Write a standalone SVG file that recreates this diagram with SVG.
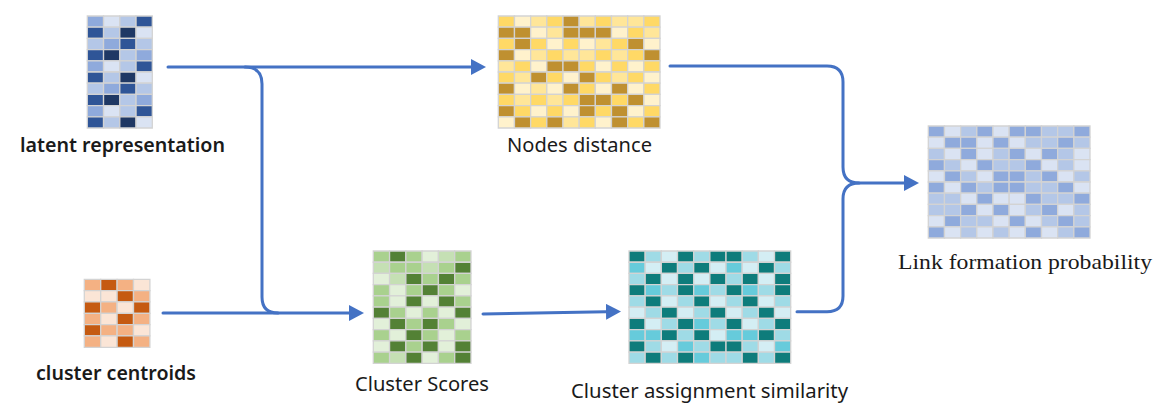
<svg xmlns="http://www.w3.org/2000/svg" width="1160" height="416" viewBox="0 0 1160 416">
<style>
rect{stroke:#d3d3d3;stroke-width:1.3;vector-effect:non-scaling-stroke}
.bVL{fill:#dae3f3}.bL{fill:#b4c7e7}.bM{fill:#8faadc}.bD{fill:#2f5597}.bX{fill:#1f3864}
.yVL{fill:#fff2cc}.yL{fill:#ffe699}.yM{fill:#ffd966}.yD{fill:#bf9030}
.oVL{fill:#fbe5d6}.oM{fill:#f4b183}.oD{fill:#c55a11}
.gVL{fill:#e2f0d9}.gL{fill:#c5e0b4}.gM{fill:#a9d18e}.gD{fill:#538135}
.tVL{fill:#d4eef4}.tL{fill:#9fdbe6}.tC{fill:#66cbdb}.tD{fill:#0e7c7b}
.conn{fill:none;stroke:#4472c4;stroke-width:3;stroke-linecap:round}
.sans{font-family:"Noto Sans","Open Sans",sans-serif;font-size:20px;fill:#1a1a1a}
.semi{font-weight:600}
.serif{font-family:"Liberation Serif","Times New Roman",serif;font-size:21px;fill:#1a1a1a}
</style>
<defs>
<marker id="ah" markerUnits="userSpaceOnUse" markerWidth="15" markerHeight="16" viewBox="0 0 15 16" refX="0" refY="8" orient="auto">
<path d="M0,0 L15,8 L0,16 Z" fill="#4472c4"/>
</marker>
</defs>
<rect x="0" y="0" width="1160" height="416" style="fill:#ffffff;stroke:none"/>

<g id="latent">
<g transform="translate(87.3,16) scale(16.25,11.2)">
<rect x="0" y="0" width="1" height="1" class="bM"/><rect x="1" y="0" width="1" height="1" class="bVL"/><rect x="2" y="0" width="1" height="1" class="bL"/><rect x="3" y="0" width="1" height="1" class="bD"/>
<rect x="0" y="1" width="1" height="1" class="bD"/><rect x="1" y="1" width="1" height="1" class="bL"/><rect x="2" y="1" width="1" height="1" class="bX"/><rect x="3" y="1" width="1" height="1" class="bVL"/>
<rect x="0" y="2" width="1" height="1" class="bL"/><rect x="1" y="2" width="1" height="1" class="bM"/><rect x="2" y="2" width="1" height="1" class="bD"/><rect x="3" y="2" width="1" height="1" class="bL"/>
<rect x="0" y="3" width="1" height="1" class="bD"/><rect x="1" y="3" width="1" height="1" class="bX"/><rect x="2" y="3" width="1" height="1" class="bL"/><rect x="3" y="3" width="1" height="1" class="bM"/>
<rect x="0" y="4" width="1" height="1" class="bM"/><rect x="1" y="4" width="1" height="1" class="bVL"/><rect x="2" y="4" width="1" height="1" class="bL"/><rect x="3" y="4" width="1" height="1" class="bD"/>
<rect x="0" y="5" width="1" height="1" class="bD"/><rect x="1" y="5" width="1" height="1" class="bL"/><rect x="2" y="5" width="1" height="1" class="bX"/><rect x="3" y="5" width="1" height="1" class="bVL"/>
<rect x="0" y="6" width="1" height="1" class="bL"/><rect x="1" y="6" width="1" height="1" class="bM"/><rect x="2" y="6" width="1" height="1" class="bD"/><rect x="3" y="6" width="1" height="1" class="bL"/>
<rect x="0" y="7" width="1" height="1" class="bD"/><rect x="1" y="7" width="1" height="1" class="bX"/><rect x="2" y="7" width="1" height="1" class="bL"/><rect x="3" y="7" width="1" height="1" class="bM"/>
<rect x="0" y="8" width="1" height="1" class="bM"/><rect x="1" y="8" width="1" height="1" class="bVL"/><rect x="2" y="8" width="1" height="1" class="bL"/><rect x="3" y="8" width="1" height="1" class="bD"/>
<rect x="0" y="9" width="1" height="1" class="bD"/><rect x="1" y="9" width="1" height="1" class="bL"/><rect x="2" y="9" width="1" height="1" class="bX"/><rect x="3" y="9" width="1" height="1" class="bVL"/>
</g>
<text x="20" y="152" class="sans semi" textLength="205" lengthAdjust="spacingAndGlyphs">latent representation</text>
</g>

<g id="nodes-distance">
<g transform="translate(498.3,16) scale(16.17,11.2)">
<rect x="0" y="0" width="1" height="1" class="yM"/><rect x="1" y="0" width="1" height="1" class="yVL"/><rect x="2" y="0" width="1" height="1" class="yL"/><rect x="3" y="0" width="1" height="1" class="yM"/><rect x="4" y="0" width="1" height="1" class="yD"/><rect x="5" y="0" width="1" height="1" class="yL"/><rect x="6" y="0" width="1" height="1" class="yM"/><rect x="7" y="0" width="1" height="1" class="yL"/><rect x="8" y="0" width="1" height="1" class="yL"/><rect x="9" y="0" width="1" height="1" class="yM"/>
<rect x="0" y="1" width="1" height="1" class="yD"/><rect x="1" y="1" width="1" height="1" class="yD"/><rect x="2" y="1" width="1" height="1" class="yVL"/><rect x="3" y="1" width="1" height="1" class="yL"/><rect x="4" y="1" width="1" height="1" class="yD"/><rect x="5" y="1" width="1" height="1" class="yD"/><rect x="6" y="1" width="1" height="1" class="yD"/><rect x="7" y="1" width="1" height="1" class="yVL"/><rect x="8" y="1" width="1" height="1" class="yM"/><rect x="9" y="1" width="1" height="1" class="yL"/>
<rect x="0" y="2" width="1" height="1" class="yM"/><rect x="1" y="2" width="1" height="1" class="yD"/><rect x="2" y="2" width="1" height="1" class="yM"/><rect x="3" y="2" width="1" height="1" class="yVL"/><rect x="4" y="2" width="1" height="1" class="yM"/><rect x="5" y="2" width="1" height="1" class="yVL"/><rect x="6" y="2" width="1" height="1" class="yL"/><rect x="7" y="2" width="1" height="1" class="yM"/><rect x="8" y="2" width="1" height="1" class="yD"/><rect x="9" y="2" width="1" height="1" class="yVL"/>
<rect x="0" y="3" width="1" height="1" class="yD"/><rect x="1" y="3" width="1" height="1" class="yVL"/><rect x="2" y="3" width="1" height="1" class="yL"/><rect x="3" y="3" width="1" height="1" class="yM"/><rect x="4" y="3" width="1" height="1" class="yL"/><rect x="5" y="3" width="1" height="1" class="yL"/><rect x="6" y="3" width="1" height="1" class="yM"/><rect x="7" y="3" width="1" height="1" class="yL"/><rect x="8" y="3" width="1" height="1" class="yM"/><rect x="9" y="3" width="1" height="1" class="yD"/>
<rect x="0" y="4" width="1" height="1" class="yL"/><rect x="1" y="4" width="1" height="1" class="yM"/><rect x="2" y="4" width="1" height="1" class="yVL"/><rect x="3" y="4" width="1" height="1" class="yD"/><rect x="4" y="4" width="1" height="1" class="yD"/><rect x="5" y="4" width="1" height="1" class="yM"/><rect x="6" y="4" width="1" height="1" class="yVL"/><rect x="7" y="4" width="1" height="1" class="yM"/><rect x="8" y="4" width="1" height="1" class="yVL"/><rect x="9" y="4" width="1" height="1" class="yM"/>
<rect x="0" y="5" width="1" height="1" class="yM"/><rect x="1" y="5" width="1" height="1" class="yL"/><rect x="2" y="5" width="1" height="1" class="yD"/><rect x="3" y="5" width="1" height="1" class="yM"/><rect x="4" y="5" width="1" height="1" class="yVL"/><rect x="5" y="5" width="1" height="1" class="yD"/><rect x="6" y="5" width="1" height="1" class="yM"/><rect x="7" y="5" width="1" height="1" class="yL"/><rect x="8" y="5" width="1" height="1" class="yM"/><rect x="9" y="5" width="1" height="1" class="yVL"/>
<rect x="0" y="6" width="1" height="1" class="yD"/><rect x="1" y="6" width="1" height="1" class="yVL"/><rect x="2" y="6" width="1" height="1" class="yL"/><rect x="3" y="6" width="1" height="1" class="yVL"/><rect x="4" y="6" width="1" height="1" class="yD"/><rect x="5" y="6" width="1" height="1" class="yM"/><rect x="6" y="6" width="1" height="1" class="yVL"/><rect x="7" y="6" width="1" height="1" class="yD"/><rect x="8" y="6" width="1" height="1" class="yVL"/><rect x="9" y="6" width="1" height="1" class="yM"/>
<rect x="0" y="7" width="1" height="1" class="yM"/><rect x="1" y="7" width="1" height="1" class="yL"/><rect x="2" y="7" width="1" height="1" class="yM"/><rect x="3" y="7" width="1" height="1" class="yL"/><rect x="4" y="7" width="1" height="1" class="yM"/><rect x="5" y="7" width="1" height="1" class="yD"/><rect x="6" y="7" width="1" height="1" class="yD"/><rect x="7" y="7" width="1" height="1" class="yM"/><rect x="8" y="7" width="1" height="1" class="yD"/><rect x="9" y="7" width="1" height="1" class="yVL"/>
<rect x="0" y="8" width="1" height="1" class="yD"/><rect x="1" y="8" width="1" height="1" class="yM"/><rect x="2" y="8" width="1" height="1" class="yVL"/><rect x="3" y="8" width="1" height="1" class="yM"/><rect x="4" y="8" width="1" height="1" class="yVL"/><rect x="5" y="8" width="1" height="1" class="yD"/><rect x="6" y="8" width="1" height="1" class="yM"/><rect x="7" y="8" width="1" height="1" class="yD"/><rect x="8" y="8" width="1" height="1" class="yVL"/><rect x="9" y="8" width="1" height="1" class="yM"/>
<rect x="0" y="9" width="1" height="1" class="yVL"/><rect x="1" y="9" width="1" height="1" class="yD"/><rect x="2" y="9" width="1" height="1" class="yM"/><rect x="3" y="9" width="1" height="1" class="yD"/><rect x="4" y="9" width="1" height="1" class="yL"/><rect x="5" y="9" width="1" height="1" class="yM"/><rect x="6" y="9" width="1" height="1" class="yVL"/><rect x="7" y="9" width="1" height="1" class="yD"/><rect x="8" y="9" width="1" height="1" class="yM"/><rect x="9" y="9" width="1" height="1" class="yD"/>
</g>
<text x="507" y="152" class="sans" textLength="145" lengthAdjust="spacingAndGlyphs">Nodes distance</text>
</g>

<g id="link-probability">
<g transform="translate(928.3,126) scale(16.17,11.2)">
<rect x="0" y="0" width="1" height="1" class="bM"/><rect x="1" y="0" width="1" height="1" class="bVL"/><rect x="2" y="0" width="1" height="1" class="bL"/><rect x="3" y="0" width="1" height="1" class="bM"/><rect x="4" y="0" width="1" height="1" class="bVL"/><rect x="5" y="0" width="1" height="1" class="bM"/><rect x="6" y="0" width="1" height="1" class="bM"/><rect x="7" y="0" width="1" height="1" class="bL"/><rect x="8" y="0" width="1" height="1" class="bL"/><rect x="9" y="0" width="1" height="1" class="bM"/>
<rect x="0" y="1" width="1" height="1" class="bVL"/><rect x="1" y="1" width="1" height="1" class="bM"/><rect x="2" y="1" width="1" height="1" class="bM"/><rect x="3" y="1" width="1" height="1" class="bVL"/><rect x="4" y="1" width="1" height="1" class="bM"/><rect x="5" y="1" width="1" height="1" class="bVL"/><rect x="6" y="1" width="1" height="1" class="bL"/><rect x="7" y="1" width="1" height="1" class="bL"/><rect x="8" y="1" width="1" height="1" class="bM"/><rect x="9" y="1" width="1" height="1" class="bL"/>
<rect x="0" y="2" width="1" height="1" class="bL"/><rect x="1" y="2" width="1" height="1" class="bVL"/><rect x="2" y="2" width="1" height="1" class="bM"/><rect x="3" y="2" width="1" height="1" class="bVL"/><rect x="4" y="2" width="1" height="1" class="bL"/><rect x="5" y="2" width="1" height="1" class="bM"/><rect x="6" y="2" width="1" height="1" class="bVL"/><rect x="7" y="2" width="1" height="1" class="bM"/><rect x="8" y="2" width="1" height="1" class="bL"/><rect x="9" y="2" width="1" height="1" class="bVL"/>
<rect x="0" y="3" width="1" height="1" class="bM"/><rect x="1" y="3" width="1" height="1" class="bL"/><rect x="2" y="3" width="1" height="1" class="bVL"/><rect x="3" y="3" width="1" height="1" class="bM"/><rect x="4" y="3" width="1" height="1" class="bL"/><rect x="5" y="3" width="1" height="1" class="bL"/><rect x="6" y="3" width="1" height="1" class="bM"/><rect x="7" y="3" width="1" height="1" class="bVL"/><rect x="8" y="3" width="1" height="1" class="bL"/><rect x="9" y="3" width="1" height="1" class="bVL"/>
<rect x="0" y="4" width="1" height="1" class="bVL"/><rect x="1" y="4" width="1" height="1" class="bM"/><rect x="2" y="4" width="1" height="1" class="bL"/><rect x="3" y="4" width="1" height="1" class="bVL"/><rect x="4" y="4" width="1" height="1" class="bM"/><rect x="5" y="4" width="1" height="1" class="bM"/><rect x="6" y="4" width="1" height="1" class="bL"/><rect x="7" y="4" width="1" height="1" class="bM"/><rect x="8" y="4" width="1" height="1" class="bVL"/><rect x="9" y="4" width="1" height="1" class="bL"/>
<rect x="0" y="5" width="1" height="1" class="bM"/><rect x="1" y="5" width="1" height="1" class="bVL"/><rect x="2" y="5" width="1" height="1" class="bM"/><rect x="3" y="5" width="1" height="1" class="bL"/><rect x="4" y="5" width="1" height="1" class="bM"/><rect x="5" y="5" width="1" height="1" class="bM"/><rect x="6" y="5" width="1" height="1" class="bL"/><rect x="7" y="5" width="1" height="1" class="bL"/><rect x="8" y="5" width="1" height="1" class="bM"/><rect x="9" y="5" width="1" height="1" class="bVL"/>
<rect x="0" y="6" width="1" height="1" class="bL"/><rect x="1" y="6" width="1" height="1" class="bL"/><rect x="2" y="6" width="1" height="1" class="bVL"/><rect x="3" y="6" width="1" height="1" class="bM"/><rect x="4" y="6" width="1" height="1" class="bVL"/><rect x="5" y="6" width="1" height="1" class="bVL"/><rect x="6" y="6" width="1" height="1" class="bM"/><rect x="7" y="6" width="1" height="1" class="bL"/><rect x="8" y="6" width="1" height="1" class="bL"/><rect x="9" y="6" width="1" height="1" class="bM"/>
<rect x="0" y="7" width="1" height="1" class="bL"/><rect x="1" y="7" width="1" height="1" class="bL"/><rect x="2" y="7" width="1" height="1" class="bM"/><rect x="3" y="7" width="1" height="1" class="bVL"/><rect x="4" y="7" width="1" height="1" class="bM"/><rect x="5" y="7" width="1" height="1" class="bVL"/><rect x="6" y="7" width="1" height="1" class="bL"/><rect x="7" y="7" width="1" height="1" class="bM"/><rect x="8" y="7" width="1" height="1" class="bVL"/><rect x="9" y="7" width="1" height="1" class="bL"/>
<rect x="0" y="8" width="1" height="1" class="bVL"/><rect x="1" y="8" width="1" height="1" class="bM"/><rect x="2" y="8" width="1" height="1" class="bL"/><rect x="3" y="8" width="1" height="1" class="bL"/><rect x="4" y="8" width="1" height="1" class="bVL"/><rect x="5" y="8" width="1" height="1" class="bM"/><rect x="6" y="8" width="1" height="1" class="bVL"/><rect x="7" y="8" width="1" height="1" class="bL"/><rect x="8" y="8" width="1" height="1" class="bM"/><rect x="9" y="8" width="1" height="1" class="bL"/>
<rect x="0" y="9" width="1" height="1" class="bM"/><rect x="1" y="9" width="1" height="1" class="bVL"/><rect x="2" y="9" width="1" height="1" class="bL"/><rect x="3" y="9" width="1" height="1" class="bVL"/><rect x="4" y="9" width="1" height="1" class="bL"/><rect x="5" y="9" width="1" height="1" class="bVL"/><rect x="6" y="9" width="1" height="1" class="bM"/><rect x="7" y="9" width="1" height="1" class="bVL"/><rect x="8" y="9" width="1" height="1" class="bL"/><rect x="9" y="9" width="1" height="1" class="bM"/>
</g>
<text x="898" y="269" class="serif" textLength="254" lengthAdjust="spacingAndGlyphs">Link formation probability</text>
</g>

<g id="cluster-centroids">
<g transform="translate(84.3,279.3) scale(16.4,11.33)">
<rect x="0" y="0" width="1" height="1" class="oM"/><rect x="1" y="0" width="1" height="1" class="oD"/><rect x="2" y="0" width="1" height="1" class="oM"/><rect x="3" y="0" width="1" height="1" class="oVL"/>
<rect x="0" y="1" width="1" height="1" class="oVL"/><rect x="1" y="1" width="1" height="1" class="oVL"/><rect x="2" y="1" width="1" height="1" class="oD"/><rect x="3" y="1" width="1" height="1" class="oM"/>
<rect x="0" y="2" width="1" height="1" class="oD"/><rect x="1" y="2" width="1" height="1" class="oM"/><rect x="2" y="2" width="1" height="1" class="oVL"/><rect x="3" y="2" width="1" height="1" class="oD"/>
<rect x="0" y="3" width="1" height="1" class="oM"/><rect x="1" y="3" width="1" height="1" class="oVL"/><rect x="2" y="3" width="1" height="1" class="oD"/><rect x="3" y="3" width="1" height="1" class="oM"/>
<rect x="0" y="4" width="1" height="1" class="oD"/><rect x="1" y="4" width="1" height="1" class="oM"/><rect x="2" y="4" width="1" height="1" class="oM"/><rect x="3" y="4" width="1" height="1" class="oVL"/>
<rect x="0" y="5" width="1" height="1" class="oM"/><rect x="1" y="5" width="1" height="1" class="oVL"/><rect x="2" y="5" width="1" height="1" class="oD"/><rect x="3" y="5" width="1" height="1" class="oM"/>
</g>
<text x="36" y="380" class="sans semi" textLength="160" lengthAdjust="spacingAndGlyphs">cluster centroids</text>
</g>

<g id="cluster-scores">
<g transform="translate(373.3,251) scale(16.28,11.23)">
<rect x="0" y="0" width="1" height="1" class="gM"/><rect x="1" y="0" width="1" height="1" class="gD"/><rect x="2" y="0" width="1" height="1" class="gM"/><rect x="3" y="0" width="1" height="1" class="gVL"/><rect x="4" y="0" width="1" height="1" class="gL"/><rect x="5" y="0" width="1" height="1" class="gM"/>
<rect x="0" y="1" width="1" height="1" class="gL"/><rect x="1" y="1" width="1" height="1" class="gM"/><rect x="2" y="1" width="1" height="1" class="gM"/><rect x="3" y="1" width="1" height="1" class="gL"/><rect x="4" y="1" width="1" height="1" class="gM"/><rect x="5" y="1" width="1" height="1" class="gD"/>
<rect x="0" y="2" width="1" height="1" class="gVL"/><rect x="1" y="2" width="1" height="1" class="gL"/><rect x="2" y="2" width="1" height="1" class="gD"/><rect x="3" y="2" width="1" height="1" class="gM"/><rect x="4" y="2" width="1" height="1" class="gD"/><rect x="5" y="2" width="1" height="1" class="gM"/>
<rect x="0" y="3" width="1" height="1" class="gM"/><rect x="1" y="3" width="1" height="1" class="gVL"/><rect x="2" y="3" width="1" height="1" class="gM"/><rect x="3" y="3" width="1" height="1" class="gD"/><rect x="4" y="3" width="1" height="1" class="gM"/><rect x="5" y="3" width="1" height="1" class="gVL"/>
<rect x="0" y="4" width="1" height="1" class="gM"/><rect x="1" y="4" width="1" height="1" class="gVL"/><rect x="2" y="4" width="1" height="1" class="gD"/><rect x="3" y="4" width="1" height="1" class="gVL"/><rect x="4" y="4" width="1" height="1" class="gD"/><rect x="5" y="4" width="1" height="1" class="gM"/>
<rect x="0" y="5" width="1" height="1" class="gD"/><rect x="1" y="5" width="1" height="1" class="gM"/><rect x="2" y="5" width="1" height="1" class="gVL"/><rect x="3" y="5" width="1" height="1" class="gM"/><rect x="4" y="5" width="1" height="1" class="gVL"/><rect x="5" y="5" width="1" height="1" class="gD"/>
<rect x="0" y="6" width="1" height="1" class="gVL"/><rect x="1" y="6" width="1" height="1" class="gD"/><rect x="2" y="6" width="1" height="1" class="gM"/><rect x="3" y="6" width="1" height="1" class="gD"/><rect x="4" y="6" width="1" height="1" class="gM"/><rect x="5" y="6" width="1" height="1" class="gVL"/>
<rect x="0" y="7" width="1" height="1" class="gM"/><rect x="1" y="7" width="1" height="1" class="gVL"/><rect x="2" y="7" width="1" height="1" class="gD"/><rect x="3" y="7" width="1" height="1" class="gM"/><rect x="4" y="7" width="1" height="1" class="gVL"/><rect x="5" y="7" width="1" height="1" class="gM"/>
<rect x="0" y="8" width="1" height="1" class="gVL"/><rect x="1" y="8" width="1" height="1" class="gD"/><rect x="2" y="8" width="1" height="1" class="gM"/><rect x="3" y="8" width="1" height="1" class="gD"/><rect x="4" y="8" width="1" height="1" class="gVL"/><rect x="5" y="8" width="1" height="1" class="gD"/>
<rect x="0" y="9" width="1" height="1" class="gM"/><rect x="1" y="9" width="1" height="1" class="gL"/><rect x="2" y="9" width="1" height="1" class="gD"/><rect x="3" y="9" width="1" height="1" class="gVL"/><rect x="4" y="9" width="1" height="1" class="gM"/><rect x="5" y="9" width="1" height="1" class="gD"/>
</g>
<text x="355" y="391" class="sans" font-size="19" textLength="134" lengthAdjust="spacingAndGlyphs">Cluster Scores</text>
</g>

<g id="cluster-assignment">
<g transform="translate(629,251) scale(16.17,11.23)">
<rect x="0" y="0" width="1" height="1" class="tD"/><rect x="1" y="0" width="1" height="1" class="tL"/><rect x="2" y="0" width="1" height="1" class="tVL"/><rect x="3" y="0" width="1" height="1" class="tD"/><rect x="4" y="0" width="1" height="1" class="tL"/><rect x="5" y="0" width="1" height="1" class="tD"/><rect x="6" y="0" width="1" height="1" class="tD"/><rect x="7" y="0" width="1" height="1" class="tL"/><rect x="8" y="0" width="1" height="1" class="tVL"/><rect x="9" y="0" width="1" height="1" class="tD"/>
<rect x="0" y="1" width="1" height="1" class="tC"/><rect x="1" y="1" width="1" height="1" class="tVL"/><rect x="2" y="1" width="1" height="1" class="tD"/><rect x="3" y="1" width="1" height="1" class="tL"/><rect x="4" y="1" width="1" height="1" class="tD"/><rect x="5" y="1" width="1" height="1" class="tVL"/><rect x="6" y="1" width="1" height="1" class="tC"/><rect x="7" y="1" width="1" height="1" class="tVL"/><rect x="8" y="1" width="1" height="1" class="tD"/><rect x="9" y="1" width="1" height="1" class="tL"/>
<rect x="0" y="2" width="1" height="1" class="tL"/><rect x="1" y="2" width="1" height="1" class="tD"/><rect x="2" y="2" width="1" height="1" class="tVL"/><rect x="3" y="2" width="1" height="1" class="tD"/><rect x="4" y="2" width="1" height="1" class="tVL"/><rect x="5" y="2" width="1" height="1" class="tD"/><rect x="6" y="2" width="1" height="1" class="tL"/><rect x="7" y="2" width="1" height="1" class="tD"/><rect x="8" y="2" width="1" height="1" class="tVL"/><rect x="9" y="2" width="1" height="1" class="tD"/>
<rect x="0" y="3" width="1" height="1" class="tD"/><rect x="1" y="3" width="1" height="1" class="tC"/><rect x="2" y="3" width="1" height="1" class="tL"/><rect x="3" y="3" width="1" height="1" class="tD"/><rect x="4" y="3" width="1" height="1" class="tC"/><rect x="5" y="3" width="1" height="1" class="tL"/><rect x="6" y="3" width="1" height="1" class="tD"/><rect x="7" y="3" width="1" height="1" class="tC"/><rect x="8" y="3" width="1" height="1" class="tL"/><rect x="9" y="3" width="1" height="1" class="tD"/>
<rect x="0" y="4" width="1" height="1" class="tL"/><rect x="1" y="4" width="1" height="1" class="tD"/><rect x="2" y="4" width="1" height="1" class="tVL"/><rect x="3" y="4" width="1" height="1" class="tL"/><rect x="4" y="4" width="1" height="1" class="tD"/><rect x="5" y="4" width="1" height="1" class="tVL"/><rect x="6" y="4" width="1" height="1" class="tL"/><rect x="7" y="4" width="1" height="1" class="tD"/><rect x="8" y="4" width="1" height="1" class="tVL"/><rect x="9" y="4" width="1" height="1" class="tL"/>
<rect x="0" y="5" width="1" height="1" class="tVL"/><rect x="1" y="5" width="1" height="1" class="tL"/><rect x="2" y="5" width="1" height="1" class="tD"/><rect x="3" y="5" width="1" height="1" class="tVL"/><rect x="4" y="5" width="1" height="1" class="tL"/><rect x="5" y="5" width="1" height="1" class="tD"/><rect x="6" y="5" width="1" height="1" class="tVL"/><rect x="7" y="5" width="1" height="1" class="tL"/><rect x="8" y="5" width="1" height="1" class="tD"/><rect x="9" y="5" width="1" height="1" class="tVL"/>
<rect x="0" y="6" width="1" height="1" class="tD"/><rect x="1" y="6" width="1" height="1" class="tVL"/><rect x="2" y="6" width="1" height="1" class="tL"/><rect x="3" y="6" width="1" height="1" class="tD"/><rect x="4" y="6" width="1" height="1" class="tC"/><rect x="5" y="6" width="1" height="1" class="tL"/><rect x="6" y="6" width="1" height="1" class="tD"/><rect x="7" y="6" width="1" height="1" class="tVL"/><rect x="8" y="6" width="1" height="1" class="tL"/><rect x="9" y="6" width="1" height="1" class="tD"/>
<rect x="0" y="7" width="1" height="1" class="tC"/><rect x="1" y="7" width="1" height="1" class="tC"/><rect x="2" y="7" width="1" height="1" class="tD"/><rect x="3" y="7" width="1" height="1" class="tL"/><rect x="4" y="7" width="1" height="1" class="tD"/><rect x="5" y="7" width="1" height="1" class="tVL"/><rect x="6" y="7" width="1" height="1" class="tC"/><rect x="7" y="7" width="1" height="1" class="tC"/><rect x="8" y="7" width="1" height="1" class="tD"/><rect x="9" y="7" width="1" height="1" class="tL"/>
<rect x="0" y="8" width="1" height="1" class="tD"/><rect x="1" y="8" width="1" height="1" class="tL"/><rect x="2" y="8" width="1" height="1" class="tVL"/><rect x="3" y="8" width="1" height="1" class="tC"/><rect x="4" y="8" width="1" height="1" class="tL"/><rect x="5" y="8" width="1" height="1" class="tD"/><rect x="6" y="8" width="1" height="1" class="tD"/><rect x="7" y="8" width="1" height="1" class="tL"/><rect x="8" y="8" width="1" height="1" class="tVL"/><rect x="9" y="8" width="1" height="1" class="tC"/>
<rect x="0" y="9" width="1" height="1" class="tL"/><rect x="1" y="9" width="1" height="1" class="tD"/><rect x="2" y="9" width="1" height="1" class="tL"/><rect x="3" y="9" width="1" height="1" class="tD"/><rect x="4" y="9" width="1" height="1" class="tC"/><rect x="5" y="9" width="1" height="1" class="tL"/><rect x="6" y="9" width="1" height="1" class="tL"/><rect x="7" y="9" width="1" height="1" class="tD"/><rect x="8" y="9" width="1" height="1" class="tL"/><rect x="9" y="9" width="1" height="1" class="tD"/>
</g>
<text x="571" y="398" class="sans" textLength="277" lengthAdjust="spacingAndGlyphs">Cluster assignment similarity</text>
</g>

<g id="connectors">
<path class="conn" d="M168,67 H471" marker-end="url(#ah)"/>
<path class="conn" d="M245,67 Q262,67 262,84 V297 Q262,313 278,313"/>
<path class="conn" d="M163,313 H349" marker-end="url(#ah)"/>
<path class="conn" d="M483,314 L606,311.8" marker-end="url(#ah)"/>
<path class="conn" d="M670,66 H827 Q843,66 843,82 V167 Q843,183 859,183 H904" marker-end="url(#ah)"/>
<path class="conn" d="M797,311.7 H827 Q843,311.7 843,296 V199 Q843,183 859,183"/>
</g>
</svg>
